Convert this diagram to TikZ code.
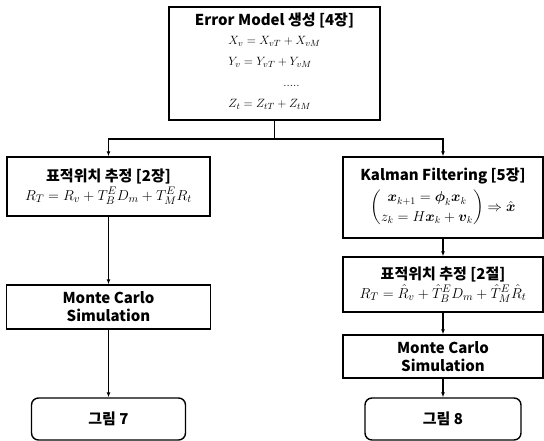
\documentclass[tikz,border=0pt]{standalone}
\usepackage{amsmath,amssymb}
\usepackage{fontspec}
\newfontfamily\kr{Noto Sans CJK KR}
\usepackage{tikz}
\usetikzlibrary{arrows.meta}
\tikzstyle{box}=[draw,line width=1.4pt,inner sep=0pt,align=center,font=\kr\bfseries\fontsize{15}{18}\selectfont]
\tikzstyle{endbox}=[box,rounded corners=7pt]
\tikzstyle{ln} =[line width=1.4pt]
\tikzstyle{arr}=[ln,-{Latex[length=5pt,width=4pt]}]

\begin{document}
\begin{tikzpicture}[x=1pt,y=-1pt]
	\useasboundingbox (0,0) rectangle (544,441);
	% top
	\node[box,minimum width=211pt,minimum height=113pt] (model) at (274.5,63.5) {Error Model 생성 [4장]\\[1pt]
	  {\fontsize{12.5}{14}\selectfont$\def\arraystretch{1.5}\begin{array}{l}
	  X_v = X_{vT}+X_{vM}\\ Y_v = Y_{vT}+Y_{vM}\\ \hspace{55pt}.....\\ Z_t = Z_{tT}+Z_{tM}\end{array}$}};
	% left column
	\node[box,minimum width=203pt,minimum height=59pt] (posl) at (108.5,186.5) {표적위치 추정 [2장]\\[1pt]
	  $R_T = R_v + T_B^E D_m + T_M^E R_t$};
	\node[box,minimum width=204pt,minimum height=44pt] (mcl) at (108.5,307) {Monte Carlo\\Simulation};
	\node[endbox,minimum width=154pt,minimum height=42pt] (figl) at (108.5,419) {그림 7};
	% right column
	\node[box,minimum width=200pt,minimum height=81pt] (kal) at (443,197.5) {Kalman Filtering [5장]\\[3pt]
	  {\fontsize{14.5}{16}\selectfont$\def\arraystretch{1.2}\begin{pmatrix}
	  \boldsymbol{x}_{k+1} = \boldsymbol{\phi}_k\boldsymbol{x}_k\\
	  z_k = H\boldsymbol{x}_k + \boldsymbol{v}_k\end{pmatrix}\Rightarrow\hat{\boldsymbol{x}}$}};
	\node[box,minimum width=200pt,minimum height=55pt] (posr) at (443,284.5) {표적위치 추정 [2절]\\[1pt]
	  $R_T = \hat{R}_v + \hat{T}_B^E D_m + \hat{T}_M^E \hat{R}_t$};
	\node[box,minimum width=200pt,minimum height=43pt] (mcr) at (443,356.5) {Monte Carlo\\Simulation};
	\node[endbox,minimum width=156pt,minimum height=42pt] (figr) at (443,419) {그림 8};
	% connectors
	\coordinate (bus) at (274.5,139);
	\draw[ln]  (model.south) -- (bus);
	\draw[arr] (bus) -| (posl.north);
	\draw[arr] (bus) -| (kal.north);
	\draw[arr] (posl.south) -- (mcl.north);
	\draw[arr] (mcl.south) -- (figl.north);
	\draw[arr] (kal.south) -- (posr.north);
	\draw[arr] (posr.south) -- (mcr.north);
	\draw[arr] (mcr.south) -- (figr.north);
\end{tikzpicture}
\end{document}
